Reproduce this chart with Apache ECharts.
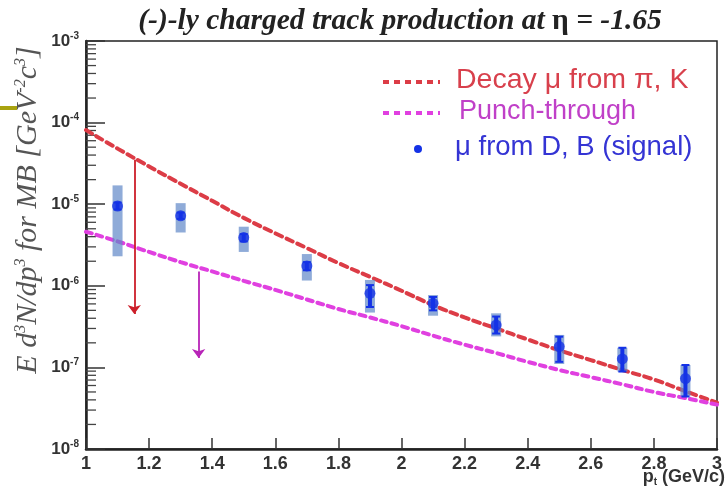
<!DOCTYPE html>
<html>
<head>
<meta charset="utf-8">
<script src="https://cdn.jsdelivr.net/npm/echarts@6/dist/echarts.min.js"></script>
<style>
  html, body { margin: 0; padding: 0; background: #fff; }
  #chart { width: 728px; height: 490px; }
</style>
</head>
<body>
<div id="chart"></div>
<script>
// Transverse momentum bins (GeV/c) of the signal points
const ptBins = [1.1, 1.3, 1.5, 1.7, 1.9, 2.1, 2.3, 2.5, 2.7, 2.9];
// Signal yield (mu from D, B)
const signalYield = [9.5e-6, 7.2e-6, 3.9e-6, 1.75e-6, 8.1e-7, 6.1e-7, 3.3e-7, 1.8e-7, 1.27e-7, 7.3e-8];
// Systematic band (low / high)
const systLow  = [2.3e-6, 4.5e-6, 2.6e-6, 1.16e-6, 4.7e-7, 4.3e-7, 2.4e-7, 1.1e-7, 8.9e-8, 4.4e-8];
const systHigh = [1.7e-5, 1.03e-5, 5.3e-6, 2.45e-6, 1.18e-6, 7.7e-7, 4.6e-7, 2.5e-7, 1.74e-7, 1.07e-7];
// Statistical error bar (low / high)
const statLow  = [8.6e-6, 6.6e-6, 3.5e-6, 1.55e-6, 5.5e-7, 5.0e-7, 2.6e-7, 1.17e-7, 8.9e-8, 4.4e-8];
const statHigh = [1.05e-5, 7.9e-6, 4.3e-6, 1.95e-6, 1.02e-6, 7.3e-7, 4.2e-7, 2.38e-7, 1.74e-7, 1.07e-7];

// Background curves sampled every 0.1 GeV/c
const curvePt = [1.0, 1.1, 1.2, 1.3, 1.4, 1.5, 1.6, 1.7, 1.8, 1.9, 2.0, 2.1, 2.2, 2.3, 2.4, 2.5, 2.6, 2.7, 2.8, 2.9, 3.0];
const decayMu = [8.1e-5, 4.8e-5, 2.9e-5, 1.78e-5, 1.1e-5, 6.8e-6, 4.4e-6, 2.9e-6, 1.9e-6, 1.29e-6, 8.7e-7, 5.8e-7, 4.1e-7, 3.0e-7, 2.2e-7, 1.62e-7, 1.23e-7, 9.3e-8, 7.1e-8, 5.1e-8, 3.7e-8];
const punchThrough = [4.6e-6, 3.5e-6, 2.6e-6, 1.95e-6, 1.5e-6, 1.15e-6, 8.9e-7, 6.8e-7, 5.2e-7, 4.1e-7, 3.2e-7, 2.45e-7, 1.9e-7, 1.5e-7, 1.17e-7, 9.3e-8, 7.6e-8, 6.2e-8, 5.0e-8, 4.2e-8, 3.5e-8];

// Upper-limit arrows: [pt, from, to]
const decayArrow = [1.153, 3.5e-5, 4.5e-7];
const punchArrow = [1.357, 1.5e-6, 1.3e-7];

// Axis ranges and labels
const yMin = 1e-8, yMax = 1e-3;
const xMin = 1, xMax = 3, xStep = 0.2;
const legendLabels = ['Decay \u03bc from \u03c0, K', 'Punch-through', '\u03bc from D, B (signal)'];

const RED = '#dc3c46';
const MAG = '#e040e0';
const BLUE = '#1432e6';
const BOX = 'rgba(95,135,200,0.7)';

// minor log ticks 2..9 in each decade
const minorTicks = [];
for (let d = -8; d < -3; d++) {
  for (let m = 2; m <= 9; m++) minorTicks.push(m * Math.pow(10, d));
}

const signalRows = ptBins.map((x, i) => [x, signalYield[i], systLow[i], systHigh[i], statLow[i], statHigh[i]]);

const chart = echarts.init(document.getElementById('chart'));

chart.setOption({
  animation: false,
  backgroundColor: '#fff',
  title: {
    text: '{i|(-)-ly charged track production at }{g|\u03b7}{i| = -1.65}',
    left: 395,
    textAlign: 'center',
    top: 1,
    textStyle: {
      rich: {
        i: { fontFamily: 'Liberation Serif', fontStyle: 'italic', fontWeight: 'bold', fontSize: 29.5, color: '#222' },
        g: { fontFamily: 'Liberation Serif', fontSize: 29.5, color: '#222' }
      }
    }
  },
  grid: {
    left: 86, right: 11, top: 41, bottom: 41,
    outerBoundsMode: 'none',
    containLabel: false,
    show: true, borderColor: '#222', borderWidth: 1.5, backgroundColor: '#fff'
  },
  xAxis: {
    type: 'value', min: xMin, max: xMax, interval: xStep,
    axisLine: { lineStyle: { color: '#222', width: 2.5 } },
    axisTick: { inside: true, length: 11, lineStyle: { color: '#333', width: 1.5 } },
    axisLabel: { fontFamily: 'Liberation Sans', fontWeight: 'bold', fontSize: 18, color: '#333', margin: 6 },
    splitLine: { show: false }
  },
  yAxis: {
    type: 'log', logBase: 10, min: yMin, max: yMax,
    axisLine: { show: true, lineStyle: { color: '#222', width: 2.5 } },
    axisTick: { inside: true, length: 19, lineStyle: { color: '#333', width: 1.5 } },
    minorTick: { show: false },
    splitLine: { show: false },
    axisLabel: {
      margin: 7,
      formatter: v => '{b|10}{s|' + Math.round(Math.log10(v)) + '}',
      rich: {
        b: { fontFamily: 'Liberation Sans', fontWeight: 'bold', fontSize: 17, color: '#333' },
        s: { fontFamily: 'Liberation Sans', fontWeight: 'bold', fontSize: 10, color: '#333', verticalAlign: 'top', padding: [0, 0, 10, 0] }
      }
    }
  },
  series: [
    {
      // minor ticks of the logarithmic axis
      type: 'custom',
      silent: true,
      data: minorTicks.map(v => [xMin, v]),
      renderItem: (params, api) => {
        const p = api.coord([api.value(0), api.value(1)]);
        return {
          type: 'line',
          shape: { x1: p[0], y1: p[1], x2: p[0] + 10, y2: p[1] },
          style: { stroke: '#444', lineWidth: 1.3 }
        };
      },
      z: 1
    },
    {
      name: legendLabels[0],
      type: 'line',
      data: curvePt.map((x, i) => [x, decayMu[i]]),
      smooth: true,
      showSymbol: false,
      lineStyle: { color: RED, width: 4, type: [7, 5], cap: 'round' },
      z: 3,
      markLine: {
        silent: true,
        symbol: ['none', 'arrow'],
        symbolSize: [10, 9],
        label: { show: false },
        lineStyle: { color: '#cc1f2a', width: 1.8, type: 'solid' },
        data: [[{ coord: [decayArrow[0], decayArrow[1]] }, { coord: [decayArrow[0], decayArrow[2]] }]]
      }
    },
    {
      name: legendLabels[1],
      type: 'line',
      data: curvePt.map((x, i) => [x, punchThrough[i]]),
      smooth: true,
      showSymbol: false,
      lineStyle: { color: MAG, width: 4, type: [6, 5], cap: 'round' },
      z: 3,
      markLine: {
        silent: true,
        symbol: ['none', 'arrow'],
        symbolSize: [10, 9],
        label: { show: false },
        lineStyle: { color: '#b824b8', width: 1.8, type: 'solid' },
        data: [[{ coord: [punchArrow[0], punchArrow[1]] }, { coord: [punchArrow[0], punchArrow[2]] }]]
      }
    },
    {
      // systematic boxes and statistical error bars
      type: 'custom',
      silent: true,
      data: signalRows,
      encode: { x: 0, y: [1, 2, 3, 4, 5] },
      renderItem: (params, api) => {
        const x = api.value(0);
        const sLo = api.coord([x, api.value(2)]);
        const sHi = api.coord([x, api.value(3)]);
        const tLo = api.coord([x, api.value(4)]);
        const tHi = api.coord([x, api.value(5)]);
        const bw = 10, cw = 8;
        return {
          type: 'group',
          children: [
            { type: 'rect', shape: { x: sHi[0] - bw / 2, y: sHi[1], width: bw, height: sLo[1] - sHi[1] }, style: { fill: BOX } },
            { type: 'line', shape: { x1: tHi[0], y1: tHi[1], x2: tLo[0], y2: tLo[1] }, style: { stroke: BLUE, lineWidth: 4 } },
            { type: 'line', shape: { x1: tHi[0] - cw / 2, y1: tHi[1], x2: tHi[0] + cw / 2, y2: tHi[1] }, style: { stroke: BLUE, lineWidth: 2 } },
            { type: 'line', shape: { x1: tLo[0] - cw / 2, y1: tLo[1], x2: tLo[0] + cw / 2, y2: tLo[1] }, style: { stroke: BLUE, lineWidth: 2 } }
          ]
        };
      },
      z: 4
    },
    {
      name: legendLabels[2],
      type: 'scatter',
      data: ptBins.map((x, i) => [x, signalYield[i]]),
      symbol: 'circle',
      symbolSize: 11,
      itemStyle: { color: BLUE },
      z: 5
    }
  ],
  graphic: [
    // slide accent bar
    { type: 'rect', left: 0, top: 106, shape: { width: 17, height: 4 }, style: { fill: '#a9a30f' }, z: 10 },
    // y-axis title
    {
      type: 'text', x: 28, y: 210, rotation: Math.PI / 2, z: 10,
      style: {
        text: '{i|E d}{s|3}{i|N/dp}{s|3}{i| for MB [GeV}{s|-2}{i|c}{s|3}{i|]}',
        align: 'center', verticalAlign: 'middle',
        rich: {
          i: { fontFamily: 'Liberation Serif', fontStyle: 'italic', fontSize: 30, fill: '#555' },
          s: { fontFamily: 'Liberation Serif', fontStyle: 'italic', fontSize: 16, fill: '#555', verticalAlign: 'top', padding: [0, 0, 14, 0] }
        }
      }
    },
    // x-axis title
    {
      type: 'text', x: 725, y: 477, z: 10,
      style: {
        text: '{b|p}{s|t}{b| (GeV/c)}',
        align: 'right', verticalAlign: 'middle',
        rich: {
          b: { fontFamily: 'Liberation Sans', fontWeight: 'bold', fontSize: 18, fill: '#333' },
          s: { fontFamily: 'Liberation Sans', fontWeight: 'bold', fontSize: 10, fill: '#333', verticalAlign: 'bottom', padding: [10, 0, 0, 0] }
        }
      }
    },
    // legend
    { type: 'line', shape: { x1: 383, y1: 82, x2: 440, y2: 82 }, style: { stroke: RED, lineWidth: 4, lineDash: [6, 5] }, z: 10 },
    { type: 'text', x: 456, y: 80, style: { text: legendLabels[0], fontFamily: 'Liberation Sans', fontSize: 28.5, fill: '#d8404c', verticalAlign: 'middle' }, z: 10 },
    { type: 'line', shape: { x1: 383, y1: 113, x2: 440, y2: 113 }, style: { stroke: MAG, lineWidth: 4, lineDash: [6, 5] }, z: 10 },
    { type: 'text', x: 459, y: 112, style: { text: legendLabels[1], fontFamily: 'Liberation Sans', fontSize: 27, fill: '#c040c8', verticalAlign: 'middle' }, z: 10 },
    { type: 'circle', shape: { cx: 418, cy: 149, r: 4 }, style: { fill: BLUE }, z: 10 },
    { type: 'text', x: 455, y: 147, style: { text: legendLabels[2], fontFamily: 'Liberation Sans', fontSize: 27.5, fill: '#3434d4', verticalAlign: 'middle' }, z: 10 }
  ]
});
</script>
</body>
</html>
